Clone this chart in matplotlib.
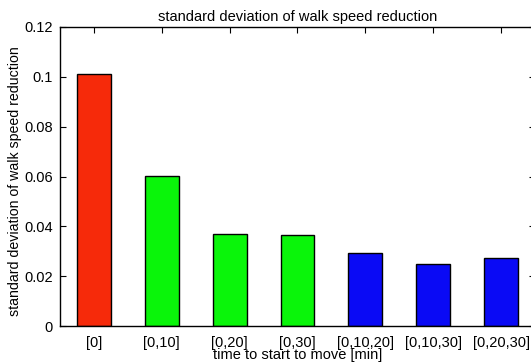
import matplotlib
matplotlib.use("Agg")
import matplotlib.pyplot as plt

categories = ["[0]", "[0,10]", "[0,20]", "[0,30]", "[0,10,20]", "[0,10,30]", "[0,20,30]"]
values = [0.1011, 0.0603, 0.0368, 0.0367, 0.0293, 0.0249, 0.0274]
colors = ["#f62a0a", "#0af50a", "#0af50a", "#0af50a", "#0a0af5", "#0a0af5", "#0a0af5"]
yticks = [0, 0.02, 0.04, 0.06, 0.08, 0.1, 0.12]
ytick_labels = ["0", "0.02", "0.04", "0.06", "0.08", "0.1", "0.12"]

plt.rcParams['font.family'] = ['Liberation Sans', 'DejaVu Sans']
W, H = 531, 364
fig = plt.figure(figsize=(W / 100, H / 100), dpi=100)
ax = fig.add_axes([60 / W, (H - 326) / H, (535 - 60) / W, (326 - 27) / H])

x = list(range(1, len(categories) + 1))
ax.bar(x, values, width=0.5, color=colors, edgecolor="black", linewidth=1.0, zorder=2)
ax.set_xlim(0.5, 7.5)
ax.set_ylim(0, 0.12)
ax.set_xticks(x)
ax.set_xticklabels(categories, fontsize=10.5)
ax.set_yticks(yticks)
ax.set_yticklabels(ytick_labels, fontsize=10.5)
ax.tick_params(axis="x", direction="in", length=4, width=0.8, top=True, pad=7)
ax.tick_params(axis="y", direction="in", length=4, width=0.8, right=True, pad=5)
for s in ax.spines.values():
    s.set_linewidth(1.0)
ax.set_title("standard deviation of walk speed reduction", fontsize=10.5, pad=4)
ax.set_xlabel("time to start to move [min]", fontsize=10.5, labelpad=-1)
ax.set_ylabel("standard deviation of walk speed reduction", fontsize=10.2)
ax.yaxis.set_label_coords(-0.08, 0.485)

fig.savefig("out.png", dpi=100)
